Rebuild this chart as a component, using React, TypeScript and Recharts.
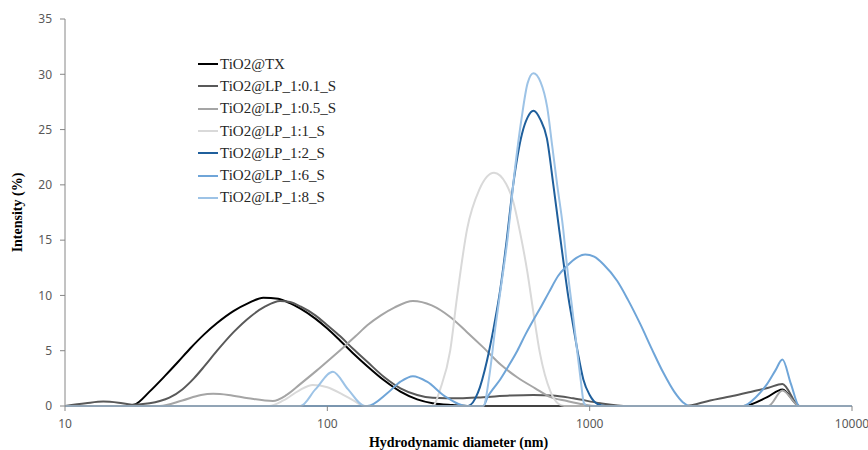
import React from 'react';
import { LineChart, Line, XAxis, YAxis, Legend } from 'recharts';

// hydrodynamic diameter (nm) vs intensity (%), one pair of arrays per sample
const seriesNames = [
  'TiO2@TX',
  'TiO2@LP_1:0.1_S',
  'TiO2@LP_1:0.5_S',
  'TiO2@LP_1:1_S',
  'TiO2@LP_1:2_S',
  'TiO2@LP_1:6_S',
  'TiO2@LP_1:8_S',
];
const seriesColors = ['#000000', '#595959', '#a5a5a5', '#d9d9d9', '#1f5f9c', '#6fa5d8', '#9dc3e6'];

const xTicks = [10, 100, 1000, 10000];
const yTicks = [0, 5, 10, 15, 20, 25, 30, 35];

const txSize = [10, 17, 18.5, 21, 24, 27, 30, 34, 38, 44, 50, 57, 65, 72, 79, 90, 100, 112, 125, 142, 165, 190, 220, 252, 300, 350, 3850, 4750, 5430, 6300, 10000];
const txIntensity = [0, 0, 0.15, 1.3, 2.7, 4.0, 5.2, 6.5, 7.5, 8.6, 9.3, 9.8, 9.7, 9.3, 8.8, 7.9, 7.0, 5.9, 4.8, 3.6, 2.3, 1.3, 0.6, 0.25, 0.08, 0, 0, 0.8, 1.5, 0, 0];

const lp01Size = [10, 12, 14, 16, 18, 21, 23, 25, 28, 31, 34, 38, 44, 51, 58, 66, 72, 79, 90, 100, 112, 125, 142, 165, 190, 220, 252, 320, 393, 500, 610, 720, 865, 1100, 1400, 2300, 2880, 3500, 4100, 4800, 5430, 6300, 10000];
const lp01Intensity = [0, 0.25, 0.4, 0.3, 0.12, 0.25, 0.45, 0.75, 1.5, 2.5, 3.6, 5.0, 6.7, 8.1, 9.0, 9.5, 9.4, 9.0, 8.2, 7.3, 6.3, 5.2, 4.0, 2.6, 1.6, 1.0, 0.75, 0.7, 0.8, 0.95, 1.0, 0.95, 0.7, 0.25, 0, 0, 0.5, 0.9, 1.27, 1.65, 2.0, 0, 0];

const lp05Size = [10, 23, 28, 33, 36.7, 42, 50, 62, 70, 79, 91, 103, 115, 128, 142, 160, 180, 212, 250, 294, 340, 393, 460, 529, 620, 709, 820, 946, 1050, 4800, 5430, 6300, 10000];
const lp05Intensity = [0, 0, 0.5, 1.0, 1.1, 1.0, 0.7, 0.45, 1.0, 2.0, 3.2, 4.3, 5.3, 6.3, 7.3, 8.2, 8.9, 9.5, 9.1, 8.05, 6.7, 5.3, 3.7, 2.6, 1.6, 0.8, 0.45, 0.15, 0, 0, 1.4, 0, 0];

const lp1Size = [10, 60, 68, 78, 88, 100, 115, 128, 137, 252, 270, 294, 312, 341, 380, 432, 480, 511, 545, 578, 610, 646, 709, 760, 800, 10000];
const lp1Intensity = [0, 0, 0.5, 1.4, 1.9, 1.7, 1.0, 0.4, 0, 0, 1.6, 5.0, 9.8, 16.0, 19.6, 21.1, 20.1, 18.5, 15.5, 12.2, 8.5, 4.8, 1.3, 0.2, 0, 0];

const lp2Size = [10, 344, 375, 406, 430, 456, 480, 511, 552, 580, 610, 649, 687, 727, 760, 795, 830, 865, 905, 946, 1000, 1069, 1150, 10000];
const lp2Intensity = [0, 0, 1.2, 4.1, 7.0, 10.5, 14.5, 20.0, 24.6, 26.1, 26.7, 25.9, 24.2, 20.0, 16.5, 13.0, 9.8, 7.3, 4.6, 2.4, 1.0, 0.2, 0, 0];

const lp6Size = [10, 142, 170, 190, 212, 240, 280, 341, 393, 410, 430, 456, 490, 530, 570, 611, 650, 700, 760, 822, 890, 962, 1040, 1130, 1274, 1400, 1560, 1730, 1910, 2100, 2276, 2400, 3850, 4300, 4750, 5100, 5430, 5850, 6300, 10000];
const lp6Intensity = [0, 0, 1.2, 2.2, 2.7, 2.2, 0.9, 0, 0, 0.9, 1.6, 2.4, 3.6, 5.0, 6.5, 7.8, 8.9, 10.3, 11.8, 12.7, 13.4, 13.7, 13.5, 12.8, 11.3, 9.6, 7.4, 5.1, 3.0, 1.3, 0.3, 0, 0, 0.8, 2.0, 3.2, 4.2, 2.0, 0, 0];

const lp8Size = [10, 79, 90, 105, 120, 139, 393, 415, 437, 460, 484, 520, 550, 580, 610, 650, 689, 720, 752, 790, 822, 860, 897, 925, 950, 975, 10000];
const lp8Intensity = [0, 0, 1.5, 3.1, 1.5, 0, 0, 2.8, 7.1, 10.9, 14.7, 21.6, 26.0, 29.2, 30.1, 29.3, 27.0, 23.5, 20.0, 16.3, 12.4, 8.6, 4.9, 2.3, 0.3, 0, 0];

const toPoints = (sizes: number[], values: number[]) =>
  sizes.map((size, i) => ({ size, value: values[i] }));

const series = [
  toPoints(txSize, txIntensity),
  toPoints(lp01Size, lp01Intensity),
  toPoints(lp05Size, lp05Intensity),
  toPoints(lp1Size, lp1Intensity),
  toPoints(lp2Size, lp2Intensity),
  toPoints(lp6Size, lp6Intensity),
  toPoints(lp8Size, lp8Intensity),
].map((data, i) => ({ name: seriesNames[i], color: seriesColors[i], data }));

const tickStyle = { fontSize: 12, fill: '#595959', fontFamily: '"Noto Sans", sans-serif' };
const titleStyle = { fontSize: 14, fontWeight: 700, fill: '#000', fontFamily: '"Liberation Serif", serif' };

const renderLegend = () => (
  <div style={{ fontFamily: '"Liberation Serif", serif', fontSize: 15, color: '#262626' }}>
    {series.map((s) => (
      <div key={s.name} style={{ display: 'flex', alignItems: 'center', height: 22.3, whiteSpace: 'nowrap' }}>
        <span style={{ display: 'inline-block', width: 20, height: s.name === 'TiO2@TX' ? 2.5 : 2, background: s.color, marginRight: 2 }} />
        <span>{s.name}</span>
      </div>
    ))}
  </div>
);

export default function App() {
  return (
    <div style={{ position: 'absolute', left: 0, top: 0, background: '#fff' }}>
      <LineChart width={868} height={450} margin={{ top: 19, right: 16, bottom: 0, left: 0 }}>
        <XAxis
          dataKey="size"
          type="number"
          scale="log"
          domain={[10, 10000]}
          ticks={xTicks}
          allowDataOverflow
          height={44}
          stroke="#868686"
          tickSize={5}
          tickMargin={8}
          tick={tickStyle}
          label={{ value: 'Hydrodynamic diameter (nm)', position: 'insideBottom', offset: 3, ...titleStyle }}
        />
        <YAxis
          type="number"
          domain={[0, 35]}
          ticks={yTicks}
          width={65}
          stroke="#868686"
          tickSize={5}
          tickMargin={8}
          tick={tickStyle}
          label={{ value: 'Intensity (%)', angle: -90, position: 'insideLeft', offset: 17, style: { textAnchor: 'middle' }, ...titleStyle }}
        />
        <Legend
          layout="vertical"
          align="center"
          verticalAlign="middle"
          content={renderLegend}
          wrapperStyle={{ left: 198, top: 53, width: 'auto' }}
        />
        {series.map((s) => (
          <Line
            key={s.name}
            data={s.data}
            dataKey="value"
            name={s.name}
            type="monotone"
            stroke={s.color}
            strokeWidth={2}
            dot={false}
            activeDot={false}
            isAnimationActive={false}
          />
        ))}
      </LineChart>
    </div>
  );
}
